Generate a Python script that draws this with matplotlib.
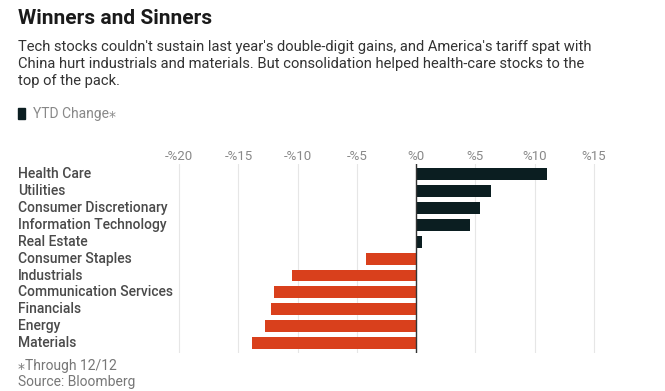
import matplotlib.pyplot as plt
from matplotlib.transforms import blended_transform_factory

# Sector YTD change (%)
sectors = ['Health Care', 'Utilities', 'Consumer Discretionary', 'Information Technology',
           'Real Estate', 'Consumer Staples', 'Industrials', 'Communication Services',
           'Financials', 'Energy', 'Materials']
ytd_change = [11.0, 6.35, 5.4, 4.5, 0.5, -4.2, -10.5, -12.0, -12.25, -12.8, -13.9]
tick_values = [-20, -15, -10, -5, 0, 5, 10, 15]
tick_labels = ['-%20', '-%15', '-%10', '-%5', '%0', '%5', '%10', '%15']

plt.rcParams['font.family'] = ['Roboto', 'DejaVu Sans']

dark = '#0b1e21'
red = '#d9401c'

fig = plt.figure(figsize=(6.65, 3.91), dpi=100)
ax = fig.add_axes([0.266, 0.097, 0.636, 0.483])

y = list(range(len(sectors)))
colors = [dark if v >= 0 else red for v in ytd_change]
ax.barh(y, ytd_change, height=0.7, color=colors, zorder=2)
ax.axvline(0, color='#333333', lw=1, zorder=3)

ax.set_xlim(-20.2, 15.5)
ax.set_ylim(len(sectors) - 0.4, -0.6)
ax.set_xticks(tick_values)
ax.set_xticklabels(tick_labels)
ax.xaxis.tick_top()
ax.tick_params(axis='x', length=0, pad=1, labelsize=9.5, labelcolor='#888888')
ax.set_yticks([])
ax.grid(axis='x', color='#e6e6e6', lw=0.8, zorder=0)
for s in ax.spines.values():
    s.set_visible(False)

# category labels, left aligned near the figure edge
trans = blended_transform_factory(fig.transFigure, ax.transData)
for yi, name in zip(y, sectors):
    ax.text(0.027, yi, name, transform=trans, ha='left', va='center',
            fontsize=10, color='#4a4a4a', fontweight='medium')

# header
fig.text(0.027, 0.953, 'Winners and Sinners', fontsize=15, fontweight='bold',
         color='#1a1a1a', va='center')
subtitle = ("Tech stocks couldn't sustain last year's double-digit gains, and America's tariff spat with\n"
            "China hurt industrials and materials. But consolidation helped health-care stocks to the\n"
            "top of the pack.")
fig.text(0.027, 0.897, subtitle, fontsize=10.6, color='#333333', va='top', linespacing=1.27)

# legend
fig.patches.append(plt.Rectangle((0.027, 0.695), 0.011, 0.03, transform=fig.transFigure,
                                 color=dark, figure=fig))
fig.text(0.05, 0.709, 'YTD Change\u204e', fontsize=10, color='#888888', va='center')

# footnotes
fig.text(0.027, 0.063, '\u204eThrough 12/12', fontsize=10, color='#777777', va='center')
fig.text(0.027, 0.024, 'Source: Bloomberg', fontsize=10, color='#777777', va='center')

fig.savefig('out.png', dpi=100)
